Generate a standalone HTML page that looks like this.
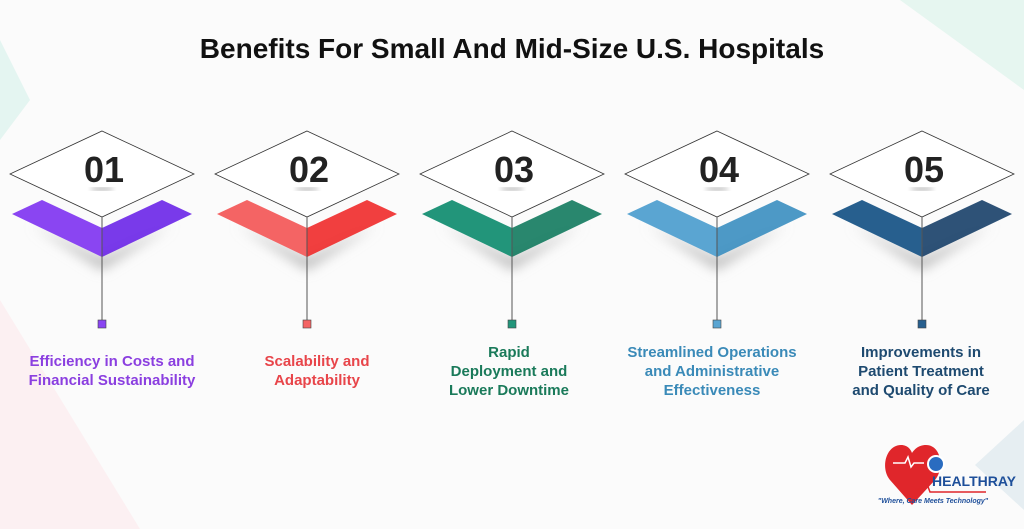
<!DOCTYPE html><html><head><style>
body{margin:0;width:1024px;height:529px;overflow:hidden;background:#fbfbfb;font-family:"Liberation Sans",sans-serif;position:relative}
.t{position:absolute;width:220px;text-align:center;font-weight:bold;font-size:15px;line-height:19px}
</style></head><body>
<svg width="1024" height="529" style="position:absolute;left:0;top:0">
<defs><filter id="b" x="-50%" y="-50%" width="200%" height="200%"><feGaussianBlur stdDeviation="6"/></filter>
<filter id="b2"><feGaussianBlur stdDeviation="2"/></filter></defs>
<polygon points="0,40 30,100 0,140" fill="#e4f5f1"/>
<polygon points="0,300 140,529 0,529" fill="#fdeef0" opacity="0.8"/>
<polygon points="900,0 1024,0 1024,90" fill="#e6f6f0"/>
<polygon points="975,465 1024,420 1024,510" fill="#e6eef2"/>
<g id="g"></g>
<text x="512" y="58" text-anchor="middle" font-family="Liberation Sans" font-weight="bold" font-size="28" fill="#111">Benefits For Small And Mid-Size U.S. Hospitals</text>
<g font-family="Liberation Sans" font-weight="bold" font-size="36" fill="#222" text-anchor="middle">
<text x="104" y="182">01</text><text x="309" y="182">02</text><text x="514" y="182">03</text><text x="719" y="182">04</text><text x="924" y="182">05</text></g>
<path d="M912,505 L890,480 C880,468 886,445 901,445 C908,445 911,450 912,453 C914,450 918,445 926,445 C941,445 945,468 935,480 Z" fill="#e0262b"/>
<circle cx="936" cy="464" r="8" fill="#2a6cc0" stroke="#fff" stroke-width="2"/>
<path d="M893,463 h12 l3,-6 l3,10 l3,-4 h10" stroke="#fff" stroke-width="1.5" fill="none"/>
<path d="M915,489 h10 l2,-5 l3,8 h56" stroke="#e0262b" stroke-width="1.5" fill="none"/>
<text x="932" y="486" font-family="Liberation Sans" font-weight="bold" font-size="14" fill="#1e4f9a">HEALTHRAY</text>
<text x="933" y="503" text-anchor="middle" font-family="Liberation Sans" font-weight="bold" font-style="italic" font-size="7" fill="#1e4f9a">"Where, Care Meets Technology"</text>
</svg>
<div class="t" style="left:2px;top:352px;color:#8b3fe0">Efficiency in Costs and<br>Financial Sustainability</div>
<div class="t" style="left:207px;top:352px;color:#e8454a">Scalability and<br>Adaptability</div>
<div class="t" style="left:399px;top:343px;color:#1a7a5a">Rapid<br>Deployment and<br>Lower Downtime</div>
<div class="t" style="left:602px;top:343px;color:#3a8ab8">Streamlined Operations<br>and Administrative<br>Effectiveness</div>
<div class="t" style="left:811px;top:343px;color:#1e4a70">Improvements in<br>Patient Treatment<br>and Quality of Care</div>
<script>
var cs=[["#8a45f2","#6a25e8"],["#f46464","#f02a2a"],["#22957a","#127a5e"],["#5aa5d2","#3a8ec0"],["#275f8e","#173f68"]];
var s="";
for(var i=0;i<5;i++){var c=102+205*i,k=cs[i];
s+='<polygon points="'+(c-70)+',225 '+c+',258 '+(c+70)+',225 '+c+',270" fill="#bbb" filter="url(#b)"/>';
s+='<polygon points="'+(c-90)+',214 '+(c-60)+',200 '+c+',228 '+c+',257" fill="'+k[0]+'"/>';
s+='<polygon points="'+(c+90)+',214 '+(c+60)+',200 '+c+',228 '+c+',257" fill="'+k[1]+'" opacity="0.9"/>';
s+='<polygon points="'+c+',131 '+(c+92)+',174 '+c+',217 '+(c-92)+',174" fill="#fff" stroke="#333" stroke-width="0.8"/>';
s+='<ellipse cx="'+c+'" cy="189" rx="12" ry="1.5" fill="#aaa" filter="url(#b2)"/>';
s+='<line x1="'+c+'" y1="217" x2="'+c+'" y2="320" stroke="#555" stroke-width="1"/>';
s+='<rect x="'+(c-4)+'" y="320" width="8" height="8" fill="'+k[0]+'" stroke="#444" stroke-width="0.6"/>';}
document.getElementById("g").innerHTML=s;
</script>
</body></html>
